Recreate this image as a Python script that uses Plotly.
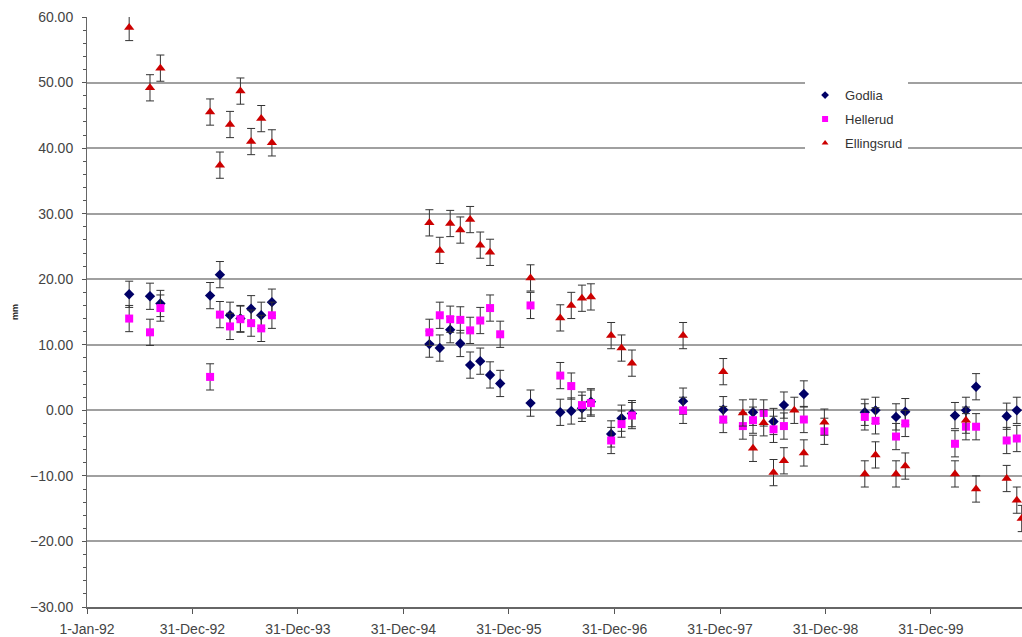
import plotly.graph_objects as go

# ---- data ----
dates = [
    "1992-05-26", "1992-08-06", "1992-09-11",
    "1993-03-02", "1993-04-05", "1993-05-10", "1993-06-15", "1993-07-22", "1993-08-26", "1993-10-02",
    "1995-03-31", "1995-05-06", "1995-06-11", "1995-07-16", "1995-08-19", "1995-09-23", "1995-10-27", "1995-12-01",
    "1996-03-15", "1996-06-26", "1996-08-03", "1996-09-09", "1996-10-10", "1996-12-19",
    "1997-01-24", "1997-03-01", "1997-08-25",
    "1998-01-11", "1998-03-20", "1998-04-24", "1998-05-31", "1998-07-04", "1998-08-09", "1998-09-14",
    "1998-10-17", "1998-12-27",
    "1999-05-16", "1999-06-22", "1999-09-01", "1999-10-03",
    "2000-03-23", "2000-04-30", "2000-06-04", "2000-09-18", "2000-10-23", "2000-11-09",
]

godlia = [
    17.7, 17.4, 16.3,
    17.5, 20.7, 14.5, 14.0, 15.5, 14.5, 16.5,
    10.1, 9.5, 12.3, 10.2, 6.9, 7.5, 5.4, 4.1,
    1.1, -0.3, -0.1, 0.3, 1.3, -3.6,
    -1.2, -0.5, 1.4,
    0.1, None, -0.3, None, -1.7, 0.8, None,
    2.5, None,
    -0.3, 0.0, -1.0, -0.2,
    -0.8, 0.0, 3.6, -0.9, 0.0, None,
]

hellerud = [
    14.0, 11.9, 15.6,
    5.1, 14.6, 12.8, 13.9, 13.3, 12.5, 14.5,
    11.9, 14.5, 13.9, 13.8, 12.2, 13.7, 15.6, 11.6,
    16.0, 5.3, 3.7, 0.8, 1.1, -4.6,
    -2.1, -0.8, 0.0,
    -1.4, -2.4, -1.5, -0.4, -2.9, -2.4, None,
    -1.4, -3.2,
    -1.0, -1.6, -4.0, -2.0,
    -5.1, -2.5, -2.5, -4.6, -4.3, None,
]

ellingsrud = [
    58.4, 49.2, 52.2,
    45.5, 37.4, 43.6, 48.7, 41.0, 44.5, 40.8,
    28.6, 24.4, 28.5, 27.5, 29.1, 25.2, 24.1, None,
    20.2, 14.1, 16.0, 17.1, 17.3, 11.4,
    9.5, 7.2, 11.4,
    5.9, -0.4, -5.8, -1.9, -9.5, -7.7, 0.0,
    -6.5, -1.8,
    -9.7, -6.8, -9.7, -8.5,
    -9.7, -1.5, -12.0, -10.4, -13.7, -16.5,
]

err_mm = 2.0

tick_dates = ["1992-01-01", "1992-12-31", "1993-12-31", "1994-12-31", "1995-12-31",
              "1996-12-31", "1997-12-31", "1998-12-31", "1999-12-31"]
tick_text = ["1-Jan-92", "31-Dec-92", "31-Dec-93", "31-Dec-94", "31-Dec-95",
             "31-Dec-96", "31-Dec-97", "31-Dec-98", "31-Dec-99"]
y_ticks = [-30, -20, -10, 0, 10, 20, 30, 40, 50, 60]

# ---- figure ----
series = [
    ("Godlia", godlia, "diamond", "#000066", 8),
    ("Hellerud", hellerud, "square", "#ff00ff", 8),
    ("Ellingsrud", ellingsrud, "triangle-up", "#cc0000", 9),
]

fig = go.Figure()
for name, vals, sym, col, sz in series:
    fig.add_trace(go.Scatter(
        x=dates, y=vals, name=name, mode="markers",
        marker=dict(symbol=sym, color=col, size=sz, line=dict(width=0)),
        error_y=dict(type="constant", value=err_mm, color="#333333", thickness=1, width=4),
        cliponaxis=False, showlegend=False, legendgroup=name,
    ))
# legend-only entries with small symbols (as in the reference legend)
for name, vals, sym, col, sz in series:
    fig.add_trace(go.Scatter(
        x=[None], y=[None], name=name, mode="markers",
        marker=dict(symbol=sym, color=col, size=6, line=dict(width=0)),
        showlegend=True, legendgroup=name,
    ))

fig.update_layout(
    width=1022, height=637,
    margin=dict(l=87, r=0, t=17, b=30),
    paper_bgcolor="white", plot_bgcolor="white",
    font=dict(family="Liberation Sans, Arial, sans-serif", size=14, color="#444444"),
    showlegend=True,
    legend=dict(
        x=0.768, y=0.893, xanchor="left", yanchor="top",
        bgcolor="white", borderwidth=0,
        font=dict(size=13, color="#333333"),
        tracegroupgap=4,
    ),
)

fig.update_xaxes(
    type="date",
    range=["1992-01-01", "2000-11-10"],
    tickmode="array", tickvals=tick_dates, ticktext=tick_text,
    ticks="outside", ticklen=5, tickcolor="#555555", tickwidth=1,
    showline=True, linecolor="#666666", linewidth=2,
    showgrid=False, zeroline=False,
    tickfont=dict(size=14, color="#444444"),
    ticklabelstandoff=3,
)

fig.update_yaxes(
    range=[-30, 60],
    tickmode="array", tickvals=y_ticks, tickformat=".2f",
    ticks="outside", ticklen=4, tickcolor="#555555", tickwidth=1,
    minor=dict(dtick=2, ticks="outside", ticklen=3, tickcolor="#555555", showgrid=False),
    showline=True, linecolor="#666666", linewidth=1,
    showgrid=True, gridcolor="#a0a0a0", gridwidth=2,
    zeroline=True, zerolinecolor="#a0a0a0", zerolinewidth=2,
    tickfont=dict(size=14, color="#444444"),
    ticklabelstandoff=6,
    title=dict(text="<b>mm</b>", font=dict(size=9, color="#222222"), standoff=9),
)

fig.write_html(
    "out.html",
    config={"displayModeBar": False},
    post_script="document.body.style.margin='0';document.body.style.overflow='hidden';",
)
